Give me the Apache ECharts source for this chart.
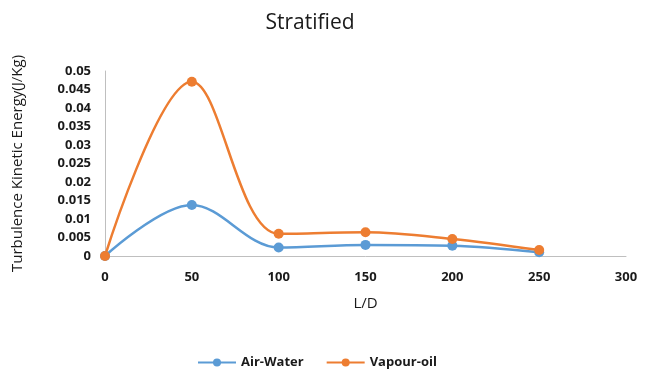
<!DOCTYPE html>
<html>
<head>
<meta charset="utf-8">
<script src="https://cdn.jsdelivr.net/npm/echarts@6/dist/echarts.min.js"></script>
<style>
  html, body { margin: 0; padding: 0; background: #fff; }
  #chart { width: 660px; height: 376px; }
</style>
</head>
<body>
<div id="chart"></div>
<script>
// L/D positions along the pipe
const ratioLD = [0, 50, 100, 150, 200, 250];
// Turbulence kinetic energy (J/Kg)
const airWater = [0, 0.0138, 0.0023, 0.003, 0.0028, 0.001];
const vapourOil = [0, 0.0471, 0.006, 0.0064, 0.0046, 0.0016];

const font = '"Open Sans", "Liberation Sans", sans-serif';
const chart = echarts.init(document.getElementById('chart'));

function pairs(ys) { return ratioLD.map((x, i) => [x, ys[i]]); }

chart.setOption({
  animation: false,
  textStyle: { fontFamily: font },
  title: {
    text: 'Stratified',
    left: 305, top: 8, textAlign: 'center',
    textStyle: { fontFamily: font, fontSize: 21, fontWeight: 'normal', color: '#1a1a1a' }
  },
  grid: { left: 105, right: 34, top: 71, bottom: 120 },
  xAxis: {
    type: 'value', min: 0, max: 300, interval: 50,
    name: 'L/D', nameLocation: 'middle', nameGap: 40,
    nameTextStyle: { fontSize: 15, color: '#1a1a1a', fontFamily: font },
    axisLine: { lineStyle: { color: '#bfbfbf' } },
    axisTick: { show: false },
    splitLine: { show: false },
    axisLabel: { color: '#1a1a1a', fontSize: 13, fontWeight: 'bold', margin: 15 }
  },
  yAxis: {
    type: 'value', min: 0, max: 0.05, interval: 0.005,
    name: 'Turbulence Kinetic Energy(J/Kg)', nameLocation: 'middle', nameGap: 80,
    nameTextStyle: { fontSize: 15, color: '#1a1a1a', fontFamily: font },
    axisLine: { show: true, lineStyle: { color: '#bfbfbf' } },
    axisTick: { show: false },
    splitLine: { show: false },
    axisLabel: { color: '#1a1a1a', fontSize: 13, fontWeight: 'bold', margin: 14 }
  },
  legend: {
    bottom: 2, left: 192, itemGap: 22, itemWidth: 38, itemHeight: 10,
    textStyle: { color: '#1a1a1a', fontSize: 13, fontWeight: 'bold', fontFamily: font },
    data: ['Air-Water', 'Vapour-oil']
  },
  series: [
    {
      name: 'Air-Water', type: 'line', data: pairs(airWater), smooth: 0.35,
      symbol: 'circle', symbolSize: 10,
      lineStyle: { color: '#5B9BD5', width: 2.5 },
      itemStyle: { color: '#5B9BD5' }
    },
    {
      name: 'Vapour-oil', type: 'line', data: pairs(vapourOil), smooth: 0.35,
      symbol: 'circle', symbolSize: 10,
      lineStyle: { color: '#ED7D31', width: 2.5 },
      itemStyle: { color: '#ED7D31' }
    }
  ]
});
</script>
</body>
</html>
